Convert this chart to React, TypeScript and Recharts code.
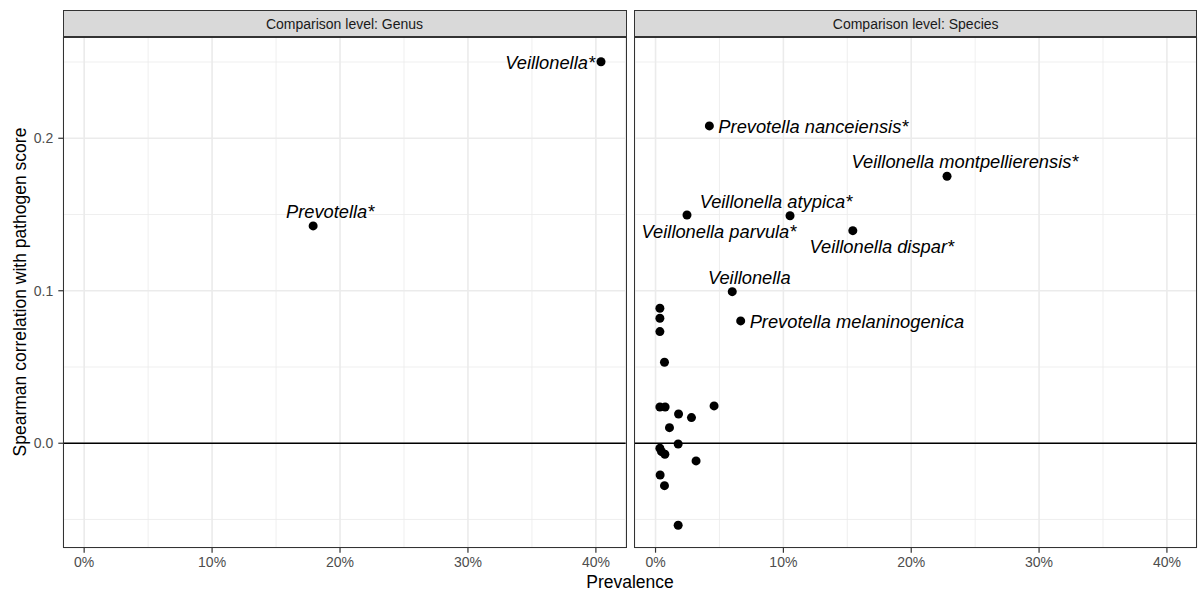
import React from "react";
import {
  ScatterChart,
  Scatter,
  XAxis,
  YAxis,
  CartesianGrid,
  ReferenceLine,
} from "recharts";

const FONT = "'Liberation Sans', Arial, Helvetica, sans-serif";

// genus panel
const genusNames = ["Veillonella*", "Prevotella*"];
const genusPrevalence = [0.404, 0.179];
const genusRho = [0.2502, 0.1425];

// species panel ("" = no label)
const speciesNames = [
  "Prevotella nanceiensis*",
  "Veillonella montpellierensis*",
  "Veillonella atypica*",
  "Veillonella parvula*",
  "Veillonella dispar*",
  "Veillonella",
  "Prevotella melaninogenica",
  "", "", "", "", "", "", "", "", "", "", "", "", "", "", "", "", "", "",
];
const speciesPrevalence = [
  0.0421, 0.228, 0.1052, 0.0246, 0.1543, 0.06, 0.0666,
  0.0034, 0.0034, 0.0034, 0.007, 0.0034, 0.0075, 0.018, 0.0281, 0.0458,
  0.0109, 0.0177, 0.0034, 0.0047, 0.0073, 0.0317, 0.0036, 0.007, 0.0177,
];
const speciesRho = [
  0.2081, 0.1751, 0.1492, 0.1497, 0.1394, 0.0994, 0.0802,
  0.0885, 0.082, 0.0732, 0.0531, 0.0238, 0.0238, 0.0192, 0.0168, 0.0245,
  0.0102, -0.0005, -0.0033, -0.0055, -0.0072, -0.0116, -0.0208, -0.0278, -0.0538,
];

const panelTitles = ["Comparison level: Genus", "Comparison level: Species"];
const xTicks = [0, 0.1, 0.2, 0.3, 0.4];
const xMinor = [0.05, 0.15, 0.25, 0.35];
const yTicks = [0, 0.1, 0.2];
const yMinor = [-0.05, 0.05, 0.15, 0.25];

const X_DOMAIN: [number, number] = [-0.0163, 0.4233];
const Y_DOMAIN: [number, number] = [-0.0685, 0.2664];

// where each label sits relative to its point (repel result)
const LABEL_POS: Record<string, { dx: number; dy: number; anchor: string }> = {
  "Veillonella*": { dx: -6, dy: 1, anchor: "end" },
  "Prevotella*": { dx: 17, dy: -14, anchor: "middle" },
  "Prevotella nanceiensis*": { dx: 9, dy: 1, anchor: "start" },
  "Veillonella montpellierensis*": { dx: 18, dy: -14.5, anchor: "middle" },
  "Veillonella atypica*": { dx: -14, dy: -14, anchor: "middle" },
  "Veillonella parvula*": { dx: 32, dy: 16.5, anchor: "middle" },
  "Veillonella dispar*": { dx: 29, dy: 16, anchor: "middle" },
  Veillonella: { dx: 17, dy: -13.7, anchor: "middle" },
  "Prevotella melaninogenica": { dx: 9, dy: 0.7, anchor: "start" },
};

const genusData = genusNames.map((name, i) => ({
  name,
  x: genusPrevalence[i],
  y: genusRho[i],
}));
const speciesData = speciesNames.map((name, i) => ({
  name,
  x: speciesPrevalence[i],
  y: speciesRho[i],
}));

const PointWithLabel = (props: any) => {
  const { cx, cy, payload } = props;
  const pos = LABEL_POS[payload.name];
  return (
    <g>
      <circle cx={cx} cy={cy} r={4.5} fill="#000" />
      {pos && (
        <text
          x={cx + pos.dx}
          y={cy + pos.dy}
          textAnchor={pos.anchor as any}
          dominantBaseline="central"
          fontSize={18.3}
          fontStyle="italic"
          fontFamily={FONT}
          fill="#000"
        >
          {payload.name}
        </text>
      )}
    </g>
  );
};

function Panel({
  data,
  left,
  width,
  marginLeft,
  marginRight,
  showY,
}: {
  data: { name: string; x: number; y: number }[];
  left: number;
  width: number;
  marginLeft: number;
  marginRight: number;
  showY: boolean;
}) {
  return (
    <div style={{ position: "absolute", left, top: 0 }}>
      <ScatterChart
        width={width}
        height={595}
        margin={{ top: 37, right: marginRight, bottom: 17.3, left: marginLeft }}
      >
        <CartesianGrid stroke="#EBEBEB" strokeWidth={1.6} fill="#fff" />
        {xMinor.map((v) => (
          <ReferenceLine key={"vx" + v} x={v} stroke="#EBEBEB" strokeWidth={0.8} />
        ))}
        {yMinor.map((v) => (
          <ReferenceLine key={"hy" + v} y={v} stroke="#EBEBEB" strokeWidth={0.8} />
        ))}
        <XAxis
          type="number"
          dataKey="x"
          domain={X_DOMAIN}
          allowDataOverflow
          ticks={xTicks}
          tickFormatter={(v: number) => `${Math.round(v * 100)}%`}
          axisLine={false}
          tickLine={{ stroke: "#333", strokeWidth: 1.2 }}
          tickSize={5}
          tickMargin={4}
          height={30}
          tick={{ fontSize: 14, fill: "#4D4D4D", fontFamily: FONT }}
        />
        <YAxis
          type="number"
          dataKey="y"
          domain={Y_DOMAIN}
          allowDataOverflow
          ticks={yTicks}
          tickFormatter={(v: number) => v.toFixed(1)}
          axisLine={false}
          tickLine={{ stroke: "#333", strokeWidth: 1.2 }}
          tickSize={5}
          tickMargin={5}
          width={63.3}
          hide={!showY}
          tick={{ fontSize: 14, fill: "#4D4D4D", fontFamily: FONT }}
        />
        <ReferenceLine y={0} stroke="#000" strokeWidth={1.4} />
        <Scatter
          data={data}
          shape={PointWithLabel}
          isAnimationActive={false}
        />
      </ScatterChart>
    </div>
  );
}

const panels = [
  { x0: 63.3, x1: 625.7 },
  { x0: 634.7, x1: 1196.7 },
];

export default function App() {
  return (
    <div
      style={{
        position: "absolute",
        left: 0,
        top: 0,
        width: 1198,
        height: 595,
        background: "#fff",
        fontFamily: FONT,
      }}
    >
      <Panel
        data={genusData}
        left={0}
        width={630}
        marginLeft={0}
        marginRight={630 - 625.7}
        showY
      />
      <Panel
        data={speciesData}
        left={600}
        width={598}
        marginLeft={34.7}
        marginRight={598 - 596.7}
        showY={false}
      />

      {panels.map((p, i) => (
        <React.Fragment key={i}>
          <div
            style={{
              position: "absolute",
              left: p.x0 - 0.8,
              top: 9.5,
              width: p.x1 - p.x0 + 1.6,
              height: 28.3,
              boxSizing: "border-box",
              background: "#D9D9D9",
              border: "1.6px solid #333",
              display: "flex",
              alignItems: "center",
              justifyContent: "center",
              fontSize: 14,
              color: "#1A1A1A",
            }}
          >
            {panelTitles[i]}
          </div>
          <div
            style={{
              position: "absolute",
              left: p.x0 - 0.8,
              top: 36.2,
              width: p.x1 - p.x0 + 1.6,
              height: 547.7 - 37 + 1.6,
              boxSizing: "border-box",
              border: "1.6px solid #333",
              pointerEvents: "none",
            }}
          />
        </React.Fragment>
      ))}

      <div
        style={{
          position: "absolute",
          left: 0,
          width: 1260,
          top: 572,
          textAlign: "center",
          fontSize: 17.5,
          lineHeight: "21px",
          color: "#000",
        }}
      >
        Prevalence
      </div>
      <div
        style={{
          position: "absolute",
          left: 19.5,
          top: 292,
          transform: "translate(-50%, -50%) rotate(-90deg)",
          whiteSpace: "nowrap",
          fontSize: 17.5,
          lineHeight: "21px",
          color: "#000",
        }}
      >
        Spearman correlation with pathogen score
      </div>
    </div>
  );
}
